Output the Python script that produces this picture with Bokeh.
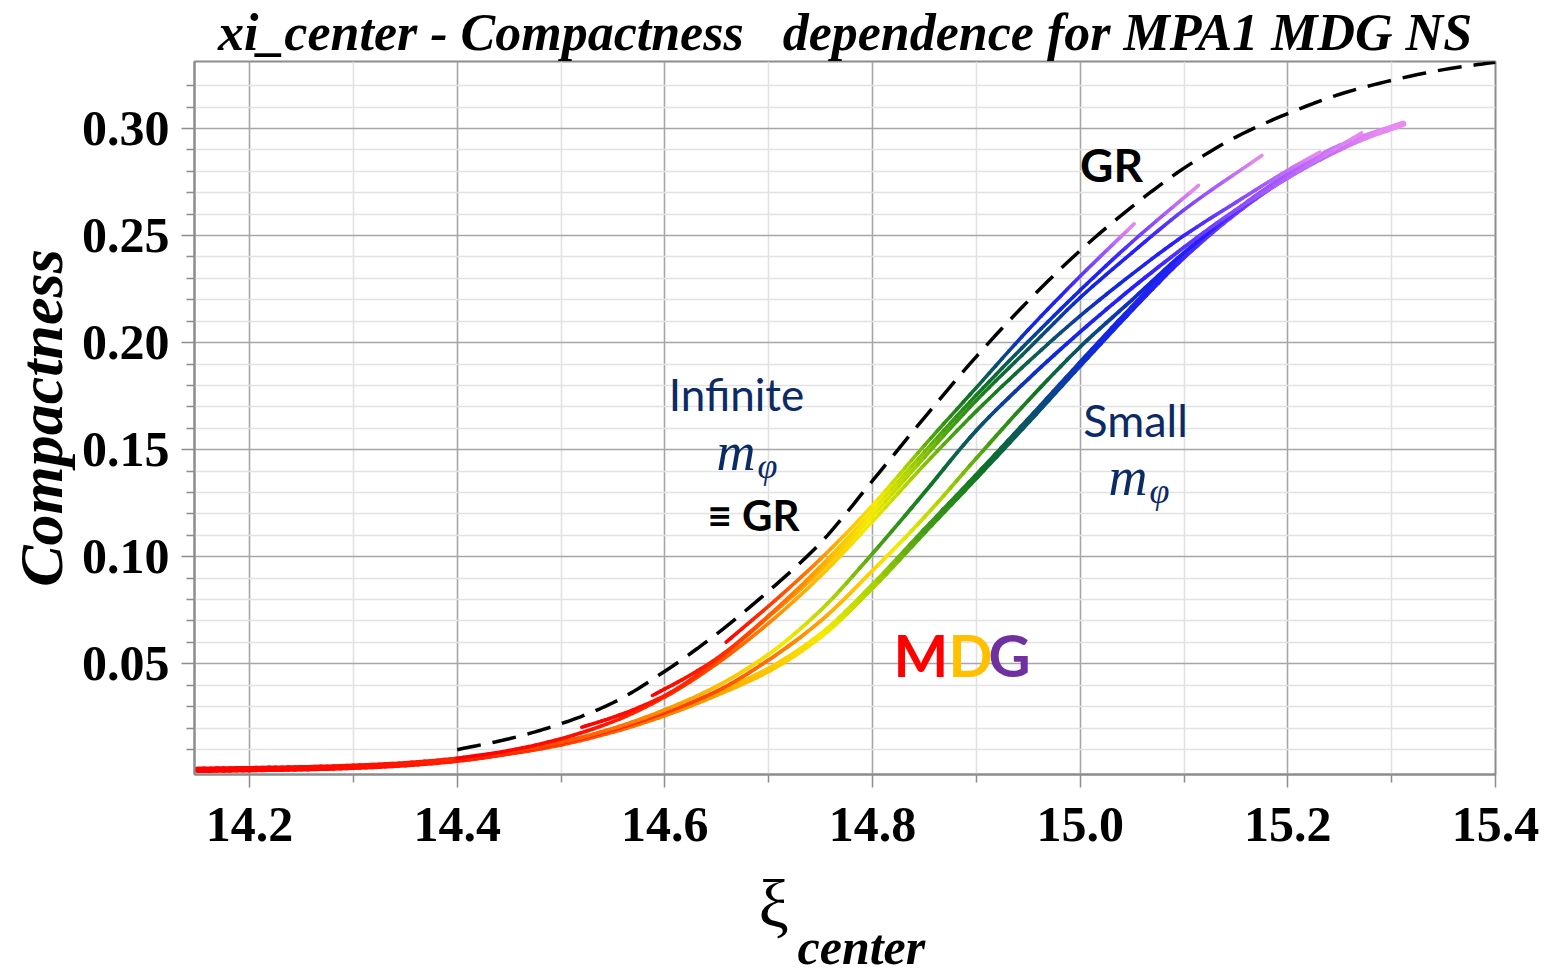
import math
from bokeh.plotting import figure
from bokeh.layouts import column
from bokeh.models import Range1d, FixedTicker, Label, NumeralTickFormatter, ColumnDataSource
from bokeh.embed import file_html
from bokeh.resources import INLINE

# ---------------- data ----------------
x_ticks = [14.2, 14.4, 14.6, 14.8, 15.0, 15.2, 15.4]
x_minor = [14.3, 14.5, 14.7, 14.9, 15.1, 15.3]
y_ticks = [0.05, 0.10, 0.15, 0.20, 0.25, 0.30]
y_minor = [0.01, 0.02, 0.03, 0.04, 0.06, 0.07, 0.08, 0.09, 0.11, 0.12, 0.13, 0.14,
           0.16, 0.17, 0.18, 0.19, 0.21, 0.22, 0.23, 0.24, 0.26, 0.27, 0.28, 0.29,
           0.31, 0.32]

# GR (dashed)
gr_xi = [14.40, 14.45, 14.50, 14.55, 14.60, 14.65, 14.70, 14.75, 14.80, 14.85, 14.90,
         14.95, 15.00, 15.05, 15.10, 15.15, 15.20, 15.25, 15.30, 15.35, 15.40]
gr_c = [0.0099, 0.0150, 0.0220, 0.0318, 0.0465, 0.0640, 0.0840, 0.1065, 0.1355, 0.1650, 0.1935,
        0.2195, 0.2430, 0.2635, 0.2815, 0.2960, 0.3070, 0.3160, 0.3225, 0.3275, 0.3310]

# MDG curves for different m_phi (upper: large m_phi ... lower: small m_phi)
u1_xi = [14.659, 14.700, 14.750, 14.800, 14.850, 14.900, 14.950, 15.000, 15.052]
u1_c = [0.0601, 0.0770, 0.0990, 0.1240, 0.1520, 0.1790, 0.2060, 0.2310, 0.2555]

u2_xi = [14.588, 14.620, 14.650, 14.700, 14.750, 14.800, 14.850, 14.900, 14.950, 15.000,
         15.050, 15.114]
u2_c = [0.0352, 0.0435, 0.0525, 0.0725, 0.0955, 0.1215, 0.1490, 0.1755, 0.2005, 0.2245,
        0.2470, 0.2734]

u3_xi = [14.520, 14.550, 14.600, 14.650, 14.700, 14.750, 14.800, 14.850, 14.900, 14.950,
         15.000, 15.050, 15.100, 15.175]
u3_c = [0.0204, 0.0250, 0.0352, 0.0515, 0.0720, 0.0935, 0.1190, 0.1465, 0.1730, 0.1970,
        0.2210, 0.2420, 0.2620, 0.2874]

u4_xi = [14.400, 14.450, 14.500, 14.550, 14.600, 14.650, 14.700, 14.750, 14.800, 14.850,
         14.900, 14.950, 15.000, 15.050, 15.100, 15.150, 15.200, 15.231]
u4_c = [0.0058, 0.0095, 0.0150, 0.0230, 0.0345, 0.0500, 0.0690, 0.0910, 0.1165, 0.1430,
        0.1680, 0.1910, 0.2125, 0.2320, 0.2500, 0.2655, 0.2805, 0.2890]

m1_xi = [14.150, 14.300, 14.400, 14.500, 14.550, 14.600, 14.650, 14.700, 14.750, 14.800,
         14.850, 14.900, 14.950, 15.000, 15.050, 15.100, 15.150, 15.200, 15.271]
m1_c = [0.0005, 0.0019, 0.0054, 0.0133, 0.0198, 0.0285, 0.0395, 0.0545, 0.0750, 0.1015,
        0.1300, 0.1590, 0.1830, 0.2050, 0.2255, 0.2445, 0.2620, 0.2770, 0.2979]

m2_xi = [14.150, 14.300, 14.400, 14.500, 14.550, 14.600, 14.650, 14.700, 14.750, 14.800,
         14.850, 14.900, 14.950, 15.000, 15.050, 15.100, 15.150, 15.200, 15.250, 15.290]
m2_c = [0.0005, 0.0019, 0.0053, 0.0130, 0.0192, 0.0272, 0.0372, 0.0518, 0.0700, 0.0935,
        0.1185, 0.1460, 0.1730, 0.1980, 0.2200, 0.2420, 0.2610, 0.2770, 0.2900, 0.2985]

b_xi = [14.150, 14.200, 14.250, 14.300, 14.350, 14.400, 14.450, 14.500, 14.550, 14.600,
        14.650, 14.700, 14.750, 14.800, 14.850, 14.900, 14.950, 15.000, 15.050, 15.100,
        15.150, 15.200, 15.250, 15.311]
b_c = [0.0005, 0.0008, 0.0012, 0.0019, 0.0031, 0.0052, 0.0085, 0.0128, 0.0188, 0.0265,
       0.0360, 0.0472, 0.0632, 0.0862, 0.1120, 0.1375, 0.1635, 0.1900, 0.2160, 0.2405,
       0.2610, 0.2780, 0.2915, 0.3022]

title_text = "xi_center - Compactness \u00a0 dependence for MPA1 MDG NS"

# ---------------- style ----------------
stops = [
    (0.00, (255, 0, 0)), (0.07, (255, 60, 0)), (0.14, (255, 120, 0)),
    (0.22, (255, 190, 0)), (0.30, (245, 235, 0)), (0.38, (170, 210, 0)),
    (0.46, (70, 160, 20)), (0.55, (15, 115, 35)), (0.63, (10, 80, 110)),
    (0.72, (15, 40, 220)), (0.82, (40, 30, 255)), (0.92, (150, 80, 255)),
    (1.00, (235, 140, 240)),
]


def cmap(t):
    t = min(max(t, 0.0), 1.0)
    for (t0, c0), (t1, c1) in zip(stops[:-1], stops[1:]):
        if t <= t1:
            f = (t - t0) / (t1 - t0) if t1 > t0 else 0
            r, g, b = (int(round(c0[i] + (c1[i] - c0[i]) * f)) for i in range(3))
            return "#%02x%02x%02x" % (r, g, b)
    return "#%02x%02x%02x" % stops[-1][1]


X0, X1 = 14.147, 15.400
Y0, Y1 = -0.0017, 0.3313
FRAME_L, FRAME_R, FRAME_T, FRAME_B = 194, 1495, 61, 774
MAIN_H = 856
BOT_H = 976 - MAIN_H

p = figure(width=1551, height=MAIN_H, output_backend="svg", toolbar_location=None,
           x_range=Range1d(X0, X1), y_range=Range1d(Y0, Y1),
           min_border_left=FRAME_L, min_border_right=1551 - FRAME_R,
           min_border_top=FRAME_T, min_border_bottom=MAIN_H - FRAME_B)
p.background_fill_color = "white"
p.border_fill_color = "white"
p.outline_line_color = "#8c8c8c"
p.outline_line_width = 2

p.title.text = title_text
p.title.align = "center"
p.title.text_font = "Liberation Serif"
p.title.text_font_style = "bold italic"
p.title.text_font_size = "52px"
p.title.text_color = "black"
p.title.standoff = 2

gray = "#8c8c8c"
for ax, ticks, minor, fmt in ((p.xaxis[0], x_ticks, x_minor, "0.0"), (p.yaxis[0], y_ticks, y_minor, "0.00")):
    ax.ticker = FixedTicker(ticks=ticks, minor_ticks=minor)
    ax.formatter = NumeralTickFormatter(format=fmt)
    ax.axis_line_color = gray
    ax.axis_line_width = 2
    ax.major_tick_line_color = gray
    ax.minor_tick_line_color = gray
    ax.major_tick_line_width = 1.5
    ax.minor_tick_line_width = 1.5
    ax.major_tick_in = 0
    ax.minor_tick_in = 0
    ax.major_tick_out = 13
    ax.minor_tick_out = 8
    ax.major_label_text_font = "Liberation Serif"
    ax.major_label_text_font_style = "bold"
    ax.major_label_text_font_size = "50px"
    ax.major_label_text_color = "black"
p.xaxis.major_label_standoff = 20
p.yaxis.major_label_standoff = 12
p.yaxis.axis_label = "Compactness"
p.yaxis.axis_label_text_font = "Liberation Serif"
p.yaxis.axis_label_text_font_style = "bold italic"
p.yaxis.axis_label_text_font_size = "62px"
p.yaxis.axis_label_text_color = "black"
p.yaxis.axis_label_standoff = 4

for g in (p.xgrid[0], p.ygrid[0]):
    g.grid_line_color = "#a6a6a6"
    g.grid_line_width = 1.6
    g.minor_grid_line_color = "#e2e2e2"
    g.minor_grid_line_width = 1.6

N_SUB = 8


def smooth_render(xs, ys):
    """Monotone cubic (PCHIP) drawing path through the read points - rendering only."""
    n = len(xs)
    h = [xs[i + 1] - xs[i] for i in range(n - 1)]
    d = [(ys[i + 1] - ys[i]) / h[i] for i in range(n - 1)]
    m = [0.0] * n
    m[0], m[-1] = d[0], d[-1]
    for i in range(1, n - 1):
        if d[i - 1] * d[i] <= 0:
            m[i] = 0.0
        else:
            w1 = 2 * h[i] + h[i - 1]
            w2 = h[i] + 2 * h[i - 1]
            m[i] = (w1 + w2) / (w1 / d[i - 1] + w2 / d[i])
    px, py = [xs[0]], [ys[0]]
    for i in range(n - 1):
        for k in range(1, N_SUB + 1):
            s = k / N_SUB
            h00 = 2 * s ** 3 - 3 * s ** 2 + 1
            h10 = s ** 3 - 2 * s ** 2 + s
            h01 = -2 * s ** 3 + 3 * s ** 2
            h11 = s ** 3 - s ** 2
            px.append(xs[i] + s * h[i])
            py.append(h00 * ys[i] + h10 * h[i] * m[i] + h01 * ys[i + 1] + h11 * h[i] * m[i + 1])
    return px, py


def add_curve(xs, ys, width, gamma):
    y0, y1 = ys[0], ys[-1]
    rx, ry = smooth_render(xs, ys)
    sx, sy, sc = [], [], []
    for i in range(len(rx) - 1):
        sx.append([rx[i], rx[i + 1]])
        sy.append([ry[i], ry[i + 1]])
        t = max(((ry[i] + ry[i + 1]) / 2 - y0) / (y1 - y0), 0.0)
        sc.append(cmap(t ** gamma))
    src = ColumnDataSource(dict(xs=sx, ys=sy, c=sc))
    p.multi_line("xs", "ys", source=src, line_color="c", line_width=width, line_cap="round")


add_curve(b_xi, b_c, 6.5, 0.78)
add_curve(m2_xi, m2_c, 3.8, 1.15)
add_curve(m1_xi, m1_c, 3.8, 0.75)
add_curve(u4_xi, u4_c, 3.6, 1.25)
add_curve(u3_xi, u3_c, 3.6, 1.2)
add_curve(u2_xi, u2_c, 3.6, 1.2)
add_curve(u1_xi, u1_c, 3.6, 1.12)

grx, gry = smooth_render(gr_xi, gr_c)
p.line(grx, gry, line_color="black", line_width=3.5, line_dash="24 12")

# metrics: Bokeh places the label point ~(ascent-descent)/2 above the baseline
LATO_K = 0.387
SERIF_K = 0.3375


def px_x(px):
    return X0 + (px - FRAME_L) * (X1 - X0) / (FRAME_R - FRAME_L)


def px_y(py):
    return Y0 + (FRAME_B - py) * (Y1 - Y0) / (FRAME_B - FRAME_T)


def lab(text, px, base_py, size, color="black", font="Lato", style="normal", align="left"):
    k = SERIF_K if font == "Liberation Serif" else LATO_K
    py = base_py - k * size
    p.add_layout(Label(x=px_x(px), y=px_y(py), text=text, text_font=font, text_font_style=style,
                       text_font_size="%dpx" % size, text_color=color, text_align=align,
                       text_baseline="alphabetic"))


navy = "#0b2a66"
lab("Infinite", 736, 411, 44, color=navy, align="center")
lab("m", 716, 470, 54, color=navy, font="Liberation Serif", style="italic")
lab("φ", 757, 478, 36, color=navy, font="Liberation Serif", style="italic")
lab("≡ GR", 753, 531, 42, style="bold", align="center")
lab("Small", 1135, 437, 45, color=navy, align="center")
lab("m", 1108, 495, 54, color=navy, font="Liberation Serif", style="italic")
lab("φ", 1149, 503, 36, color=navy, font="Liberation Serif", style="italic")
lab("GR", 1111, 182, 46, style="bold", align="center")
lab("M", 893, 676, 58, color="#ff0000", style="bold")
lab("D", 948, 676, 58, color="#ffc000", style="bold")
lab("G", 988, 676, 58, color="#7030a0", style="bold")

# bottom strip with the x-axis label  ξ_center (frame aligned with the main frame)
q = figure(width=1551, height=BOT_H, output_backend="svg", toolbar_location=None,
           x_range=Range1d(FRAME_L, FRAME_R), y_range=Range1d(0, BOT_H),
           min_border_left=FRAME_L, min_border_right=1551 - FRAME_R,
           min_border_top=0, min_border_bottom=0)
q.axis.visible = False
q.grid.visible = False
q.outline_line_color = None
q.background_fill_color = "white"
q.border_fill_color = "white"


def qlab(text, px, base_py, size, style="normal"):
    y_up = (MAIN_H + BOT_H - base_py) + SERIF_K * size
    q.add_layout(Label(x=px, y=y_up, text=text, text_font="Liberation Serif", text_font_style=style,
                       text_font_size="%dpx" % size, text_color="black", text_align="left",
                       text_baseline="alphabetic"))


qlab("ξ", 758, 926, 68)
qlab("center", 797, 963, 50, style="bold italic")

open("out.html", "w").write(file_html(column(p, q, spacing=0), INLINE))
